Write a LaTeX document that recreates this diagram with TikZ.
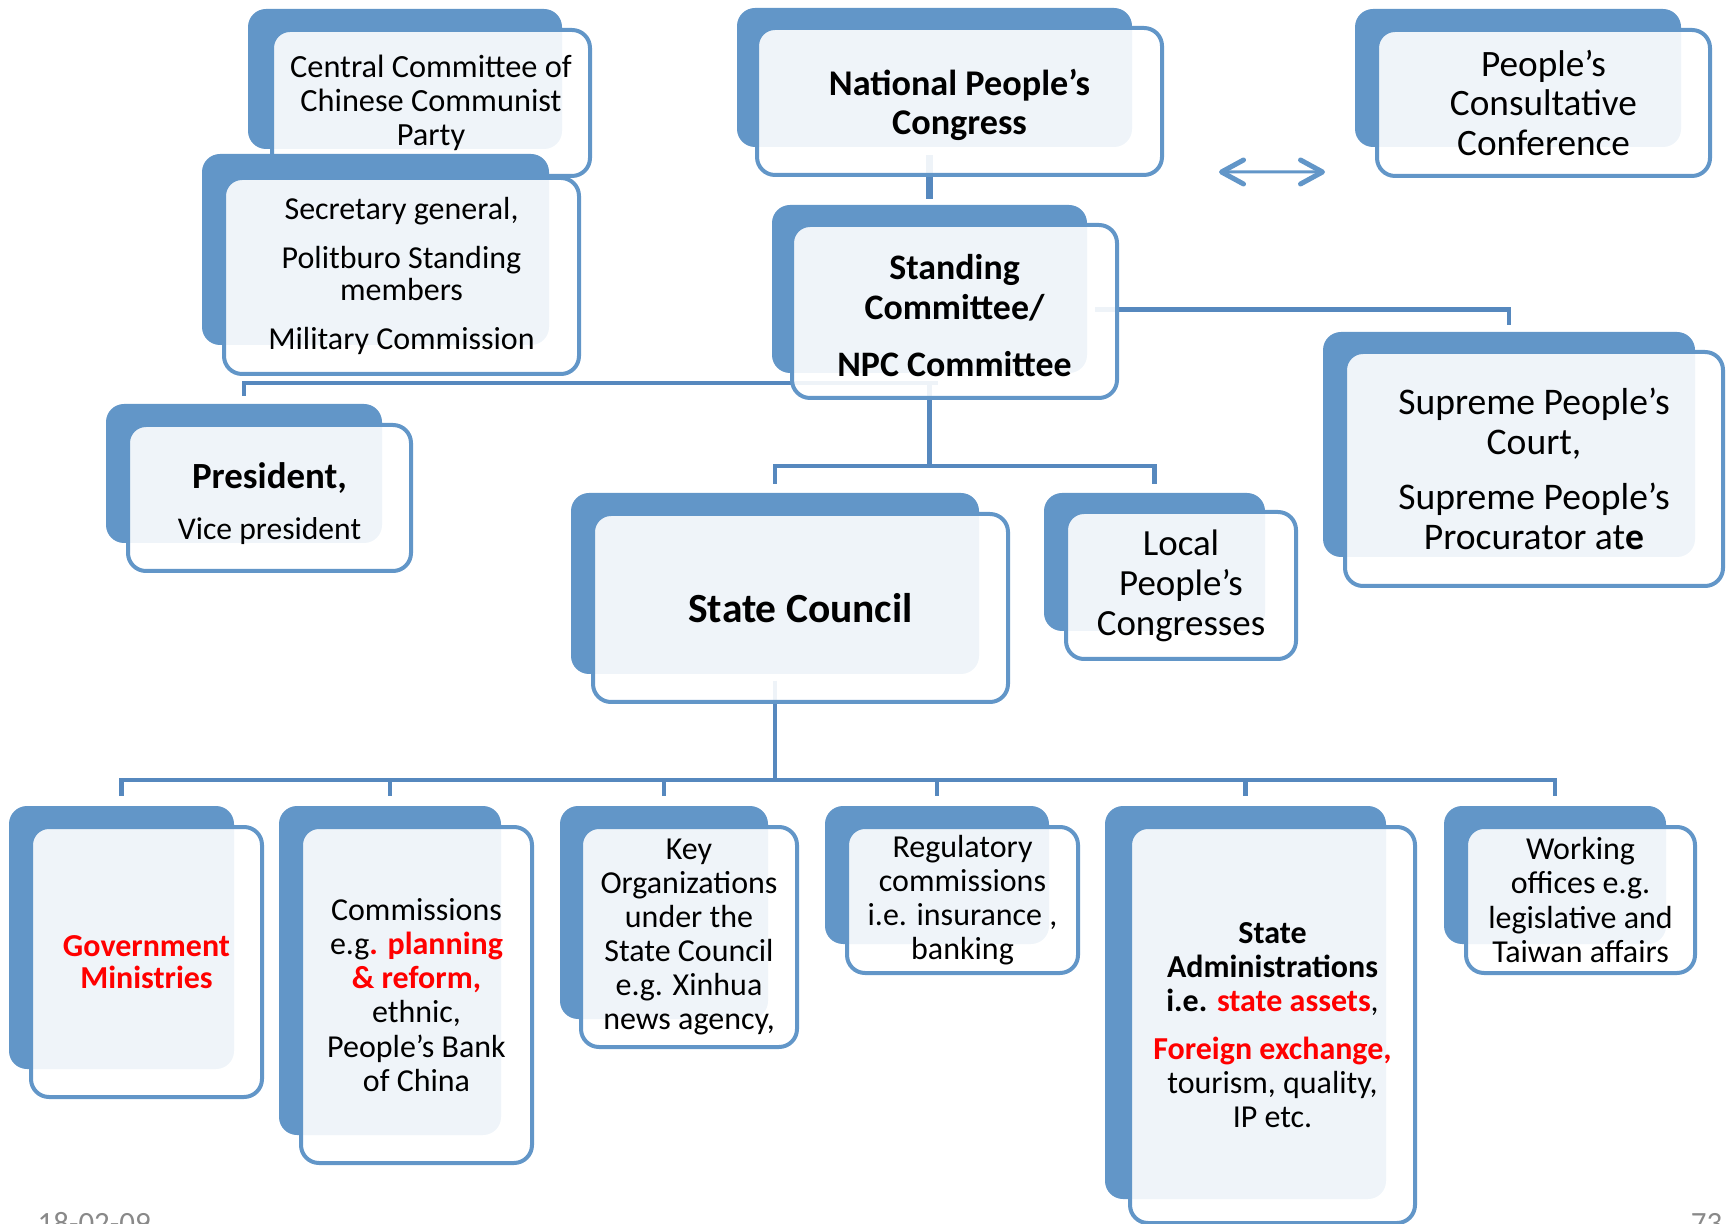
\documentclass[tikz,border=0pt]{standalone}
\usepackage{fontspec}
\setmainfont{Carlito}
\usetikzlibrary{calc,backgrounds,arrows.meta}

\definecolor{boxblue}{RGB}{98,150,200}
\definecolor{lineblue}{RGB}{86,136,190}
\definecolor{footgray}{RGB}{137,137,137}
\newcommand{\txtsize}[2]{\fontsize{#1}{#2}\selectfont}

\begin{document}
\begin{tikzpicture}[x=0.1mm,y=-0.1mm,
  back box/.style={rectangle,rounded corners=1.8mm,fill=boxblue,inner sep=0pt},
  front box/.style={rectangle,rounded corners=1.8mm,draw=boxblue,line width=0.4mm,
    fill=white,fill opacity=0.9,text opacity=1,align=center,inner sep=0pt,
    font=\txtsize{9.1pt}{9.7pt}},
  link/.style={draw=lineblue,line width=0.45mm},
  both ways/.style={draw=boxblue,line width=0.3mm,
    >={Straight Barb[length=2.2mm,width=2.4mm,line width=0.5mm,round]},<->},
  footer/.style={text=footgray,font=\txtsize{8.8pt}{10pt},inner sep=0pt}]

  \useasboundingbox (0,0) rectangle (1728,1224);

  % party
  \node[back box,minimum width=31.4mm,minimum height=14mm] (ccb) at (405,79) {};
  \node[front box,minimum width=31.8mm,minimum height=14.6mm,font=\txtsize{9.2pt}{9.6pt}] (cc) at (431,103)
    {Central Committee of\\Chinese Communist\\Party};
  \node[back box,minimum width=34.7mm,minimum height=19.1mm] (secb) at (375.5,249.5) {};
  \node[front box,minimum width=35.5mm,minimum height=19.6mm,font=\txtsize{9.1pt}{9.1pt}] (sec) at (401.5,276)
    {Secretary general,\\[4.8pt]Politburo Standing\\members\\[4.8pt]Military Commission};

  % congress
  \node[back box,minimum width=39.5mm,minimum height=13.9mm] (npcb) at (934.5,77.5) {};
  \node[front box,minimum width=40.5mm,minimum height=14.7mm,font=\bfseries\txtsize{10.3pt}{11.1pt}] (npc) at (959.5,101.5)
    {~\\[-1.5pt]National People’s\\Congress};
  \node[back box,minimum width=32.6mm,minimum height=13.8mm] (pccb) at (1518,78) {};
  \node[front box,minimum width=33.3mm,minimum height=14.6mm,font=\txtsize{10.6pt}{11.3pt}] (pcc) at (1543.5,103)
    {People’s\\Consultative\\Conference};
  \node[back box,minimum width=31.5mm,minimum height=16.8mm] (standb) at (929.5,289) {};
  \node[front box,minimum width=32.5mm,minimum height=17.3mm,font=\bfseries\txtsize{10.2pt}{11.4pt}] (stand) at (954.5,311.5)
    {~\\[-1.8pt]Standing\\Committee/\\[4.8pt]NPC Committee};

  % second level
  \node[back box,minimum width=27.6mm,minimum height=13.9mm] (presb) at (244,473.5) {};
  \node[front box,minimum width=28.3mm,minimum height=14.6mm,font=\txtsize{9pt}{10.5pt}] (pres) at (269.5,498)
    {~\\[0.2pt]{\bfseries\txtsize{10.5pt}{10.5pt}President,}\\[4pt]Vice president};
  \node[back box,minimum width=37.2mm,minimum height=22.5mm] (supb) at (1509,444.5) {};
  \node[front box,minimum width=37.8mm,minimum height=23.4mm,font=\txtsize{10.7pt}{11.3pt}] (sup) at (1534,469)
    {Supreme People’s\\Court,\\[4.5pt]Supreme People’s\\Procurator at\textbf{e}};
  \node[back box,minimum width=40.8mm,minimum height=18.1mm] (scb) at (775,583.5) {};
  \node[front box,minimum width=41.5mm,minimum height=18.8mm,font=\bfseries\txtsize{11.8pt}{12pt}] (sc) at (800.5,608)
    {State Council};
  \node[back box,minimum width=22.1mm,minimum height=13.8mm] (localb) at (1154.5,562) {};
  \node[front box,minimum width=23mm,minimum height=14.7mm,font=\txtsize{10.5pt}{11.4pt}] (local) at (1181,585.5)
    {Local\\People’s\\Congresses};

  % under the state council
  \node[back box,minimum width=22.5mm,minimum height=26.3mm] (govb) at (121.5,937.5) {};
  \node[front box,minimum width=23.1mm,minimum height=27mm,font=\bfseries\txtsize{9.1pt}{9.1pt},text=red] (gov) at (146.5,962)
    {Government\\Ministries};
  \node[back box,minimum width=22.2mm,minimum height=32.9mm] (commb) at (390,970.5) {};
  \node[front box,minimum width=23.1mm,minimum height=33.6mm] (comm) at (416.5,995)
    {Commissions\\e.g\textbf{\textcolor{red}{. planning}}\\\textbf{\textcolor{red}{\& reform,}}\\ethnic,\\People’s Bank\\of China};
  \node[back box,minimum width=20.8mm,minimum height=21.3mm] (keyb) at (664,912.5) {};
  \node[front box,minimum width=21.6mm,minimum height=22mm] (key) at (689,937)
    {Key\\Organizations\\under the\\State Council\\e.g. Xinhua\\news agency,};
  \node[back box,minimum width=22.4mm,minimum height=13.8mm] (regb) at (937,875) {};
  \node[front box,minimum width=23.1mm,minimum height=14.6mm] (reg) at (962.5,900)
    {Regulatory\\commissions\\i.e. insurance ,\\banking};
  \node[back box,minimum width=28.1mm,minimum height=39.3mm] (admb) at (1245.5,1002.5) {};
  \node[front box,minimum width=28.5mm,minimum height=39.6mm] (adm) at (1272.5,1025)
    {\textbf{State}\\\textbf{Administrations}\\\textbf{i.e. \textcolor{red}{state assets}},\\[4pt]\textbf{\textcolor{red}{Foreign exchange,}}\\tourism, quality,\\IP etc.};
  \node[back box,minimum width=22.2mm,minimum height=13.8mm] (workb) at (1555,875) {};
  \node[front box,minimum width=22.9mm,minimum height=14.6mm] (work) at (1580.5,900)
    {Working\\offices e.g.\\legislative and\\Taiwan affairs};

  % lines run behind the boxes
  \coordinate (upper bus) at (929.5,466);
  \coordinate (lower bus) at (775,780);
  \begin{scope}[on background layer]
    \draw[link,line width=0.7mm] ($(npc.south -| standb.north)+(0,-22)$) -- ($(standb.north)+(0,-5)$);
    \draw[link] ($(stand.south)+(-17,-17)$) -| ($(presb.north)+(0,-7)$); % president
    \draw[link] ($(stand.east)+(-24,-2)$) -| ($(supb.north)+(0,-6)$); % courts
    \draw[link] ($(standb.south)+(0,10)$) -- (upper bus);
    \draw[link] (upper bus) -| ($(scb.north)+(0,-8)$);
    \draw[link] (upper bus) -| ($(localb.north)+(0,-8)$);
    \draw[link] ($(scb.south)+(0,6)$) -- (lower bus);
    \foreach \bx in {govb,commb,keyb,regb,admb,workb}
      \draw[link] (lower bus) -| ($(\bx.north)+(0,-9)$);
  \end{scope}
  \draw[both ways] ($(npc.south east)+(55,-5)$) -- ($(pcc.south west)+(-50,-6)$);

  \node[footer,anchor=base west] (date) at (37,1233) {18-02-09};
  \node[footer,anchor=base east] (page) at (1723,1233) {73};
\end{tikzpicture}
\end{document}
